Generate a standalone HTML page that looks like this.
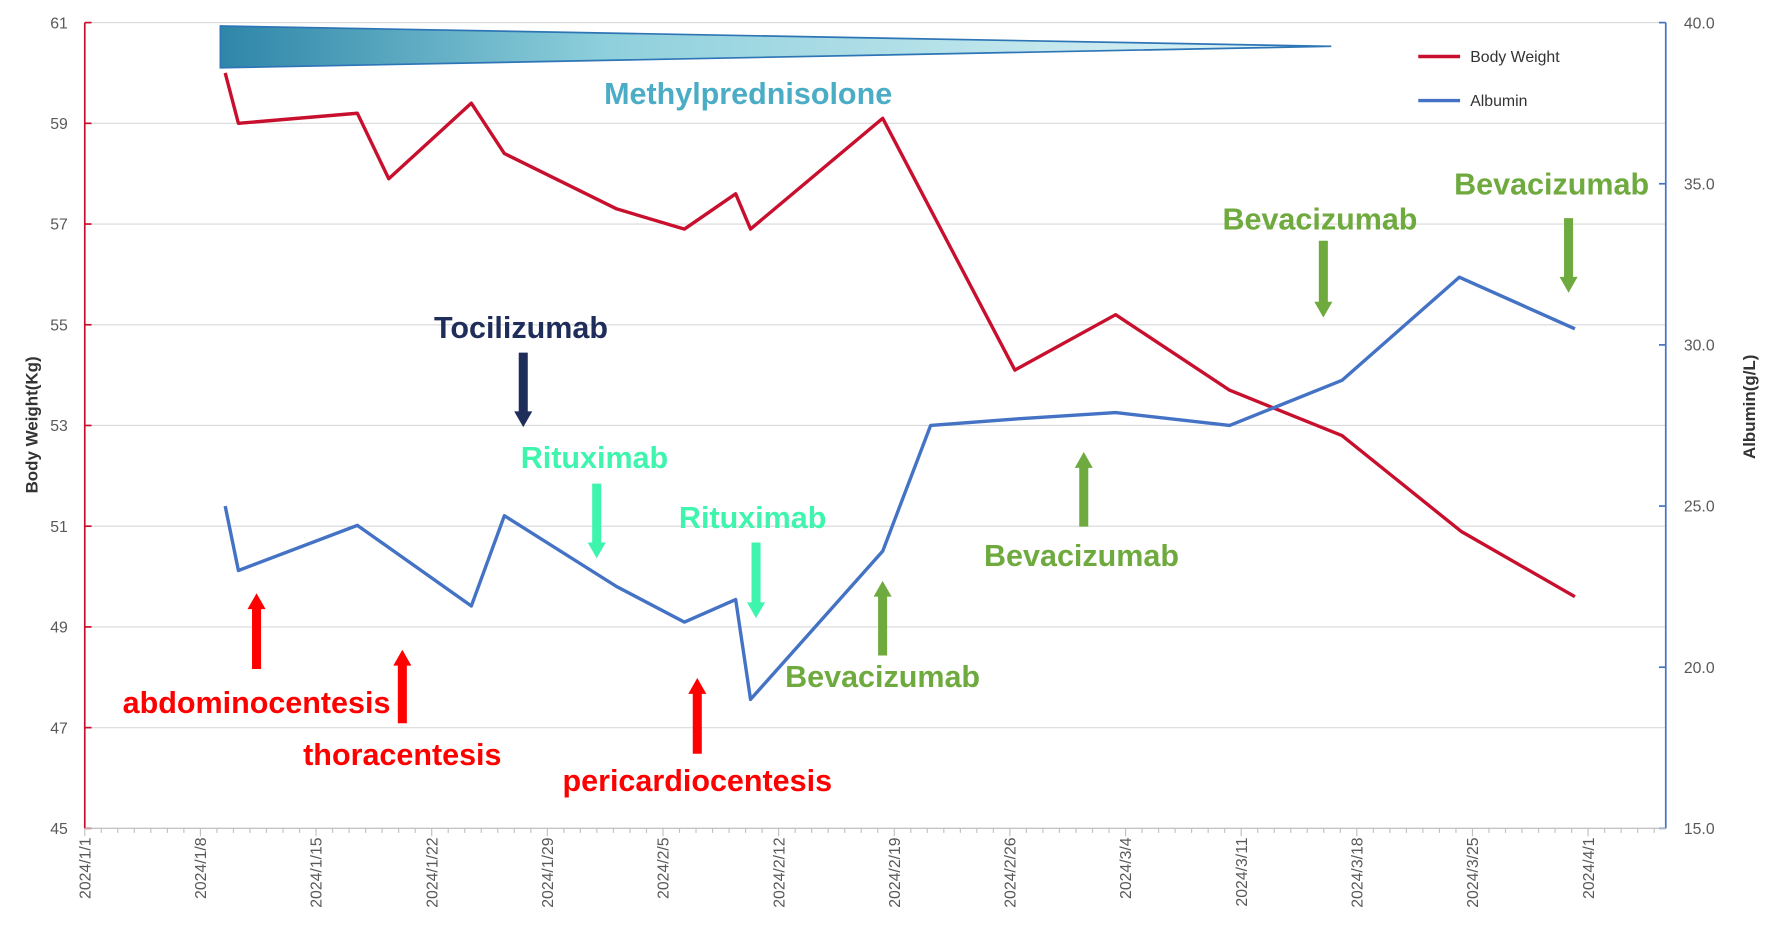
<!DOCTYPE html>
<html><head><meta charset="utf-8"><style>
html,body{margin:0;padding:0;background:#fff}
svg{display:block;font-family:"Liberation Sans",sans-serif}
</style></head><body>
<svg id="chart" width="1772" height="933" viewBox="0 0 1568 825.6" xmlns="http://www.w3.org/2000/svg">
<defs>
<linearGradient id="mp" x1="0" x2="1" y1="0" y2="0">
<stop offset="0" stop-color="#2e86a8"/><stop offset="0.35" stop-color="#8fd0dc"/><stop offset="1" stop-color="#e4f6f8"/>
</linearGradient>
</defs>
<g id="grid"></g>
<polygon points="195,23 1178,41 195,60" fill="url(#mp)" stroke="#2e75b6" stroke-width="1.5"/>
<g id="axes"></g>
<g id="series"></g>
<g id="ann"></g>
<text transform="translate(33,376) rotate(-90)" text-anchor="middle" font-size="15" font-weight="bold" fill="#333">Body Weight(Kg)</text>
<text transform="translate(1553,360) rotate(-90)" text-anchor="middle" font-size="15" font-weight="bold" fill="#333">Albumin(g/L)</text>
<g>
<line x1="1255" y1="50" x2="1292" y2="50" stroke="#c8102e" stroke-width="3"/>
<text x="1301" y="55" font-size="14" fill="#333">Body Weight</text>
<line x1="1255" y1="89" x2="1292" y2="89" stroke="#4472c4" stroke-width="3"/>
<text x="1301" y="94" font-size="14" fill="#333">Albumin</text>
</g>
</svg>
<script>
// data
const weightDays = [8.5,9.3,16.5,18.4,23.4,25.4,32.2,36.3,39.4,40.3,48.3,56.3,62.4,69.3,76.1,83.3,90.2];
const weightVals = [60.0,59.0,59.2,57.9,59.4,58.4,57.3,56.9,57.6,56.9,59.1,54.1,55.2,53.7,52.8,50.9,49.6];
const albDays = [8.5,9.3,16.5,23.4,25.4,32.2,36.3,39.4,40.3,48.3,51.2,56.3,62.4,69.3,76.1,83.2,90.2];
const albVals = [25.0,23.0,24.4,21.9,24.7,22.5,21.4,22.1,19.0,23.6,27.5,27.7,27.9,27.5,28.9,32.1,30.5];
const dateLabels = ["2024/1/1","2024/1/8","2024/1/15","2024/1/22","2024/1/29","2024/2/5","2024/2/12","2024/2/19","2024/2/26","2024/3/4","2024/3/11","2024/3/18","2024/3/25","2024/4/1"];
const leftTicks = [45,47,49,51,53,55,57,59,61];
const rightTicks = [15,20,25,30,35,40];

const NS="http://www.w3.org/2000/svg";
const X0=75,X1=1474,Y0=733,Y1=20,DAYS=95.7;
const x=d=>X0+d*(X1-X0)/DAYS;
const yL=v=>Y0-(v-45)*(Y0-Y1)/16;
const yR=v=>Y0-(v-15)*(Y0-Y1)/25;
function mk(tag,attrs,parent,txt){const e=document.createElementNS(NS,tag);for(const k in attrs)e.setAttribute(k,attrs[k]);if(txt!==undefined)e.textContent=txt;parent.appendChild(e);return e;}
const grid=document.getElementById('grid'),axes=document.getElementById('axes'),series=document.getElementById('series'),ann=document.getElementById('ann');

leftTicks.forEach(v=>{
  const g=mk('line',{x1:X0,x2:X1,y1:yL(v),y2:yL(v),stroke:'#d9d9d9','stroke-width':1},grid);
  
  
  const t=mk('text',{x:60,y:yL(v)+5,'text-anchor':'end','font-size':14,fill:'#595959'},axes,String(v));
  
  
  mk('line',{x1:X0,x2:X0+6,y1:yL(v),y2:yL(v),stroke:'#c8102e','stroke-width':1.5},axes);
});
rightTicks.forEach(v=>{
  const t=mk('text',{x:1490,y:yR(v)+5,'font-size':14,fill:'#595959'},axes,v.toFixed(1));
  
  
  mk('line',{x1:X1-6,x2:X1,y1:yR(v),y2:yR(v),stroke:'#4472c4','stroke-width':1.5},axes);
});
mk('line',{x1:X0,x2:X0,y1:Y1,y2:Y0,stroke:'#c8102e','stroke-width':1.5},axes);
mk('line',{x1:X1,x2:X1,y1:Y1,y2:Y0,stroke:'#4472c4','stroke-width':1.5},axes);
mk('line',{x1:X0,x2:X1,y1:Y0,y2:Y0,stroke:'#bfbfbf','stroke-width':1},axes);
for(let d=0;d<=95;d++){mk('line',{x1:x(d),x2:x(d),y1:Y0,y2:Y0+(d%7===0?7:4),stroke:'#bfbfbf','stroke-width':1},axes);}
dateLabels.forEach((s,i)=>{
  const xx=x(i*7);
  const t=mk('text',{transform:`translate(${xx+5},741) rotate(-90)`,'text-anchor':'end','font-size':14,fill:'#595959'},axes,s);
  
  
});
const wp=mk('polyline',{points:weightDays.map((d,i)=>x(d)+','+yL(weightVals[i])).join(' '),fill:'none',stroke:'#c8102e','stroke-width':3,'stroke-linejoin':'round'},series);


const ap=mk('polyline',{points:albDays.map((d,i)=>x(d)+','+yR(albVals[i])).join(' '),fill:'none',stroke:'#4472c4','stroke-width':3,'stroke-linejoin':'round'},series);



function arrow(cx,yTail,yHead,color){
  const dir=yHead<yTail?-1:1,hh=14*dir;
  const p=`${cx-4},${yTail} ${cx+4},${yTail} ${cx+4},${yHead-hh} ${cx+8},${yHead-hh} ${cx},${yHead} ${cx-8},${yHead-hh} ${cx-4},${yHead-hh}`;
  const a=mk('polygon',{points:p,fill:color},ann);
  
  
}
function label(cx,cy,s,color,size){
  const t=mk('text',{x:cx,y:cy+10,'text-anchor':'middle','font-size':size||27,'font-weight':'bold',fill:color},ann,s);
  
  
}
const RED='#ff0000',GRN='#6faa3f',CY='#3ff5ae',NV='#1f2d5a';
label(662,82,'Methylprednisolone','#4bacc6',27);
arrow(227,592,525,RED);arrow(356,640,575,RED);arrow(617,667,600,RED);
label(227,621,'abdominocentesis',RED);label(356,667,'thoracentesis',RED);label(617,690,'pericardiocentesis',RED);
arrow(463,312,378,NV);label(461,289,'Tocilizumab',NV);
arrow(528,428,494,CY);label(526,404,'Rituximab',CY);
arrow(669,480,547,CY);label(666,457,'Rituximab',CY);
arrow(781,580,514,GRN);label(781,598,'Bevacizumab',GRN);
arrow(959,466,400,GRN);label(957,491,'Bevacizumab',GRN);
arrow(1171,213,281,GRN);label(1168,193,'Bevacizumab',GRN);
arrow(1388,193,259,GRN);label(1373,162,'Bevacizumab',GRN);
</script>
</body></html>
